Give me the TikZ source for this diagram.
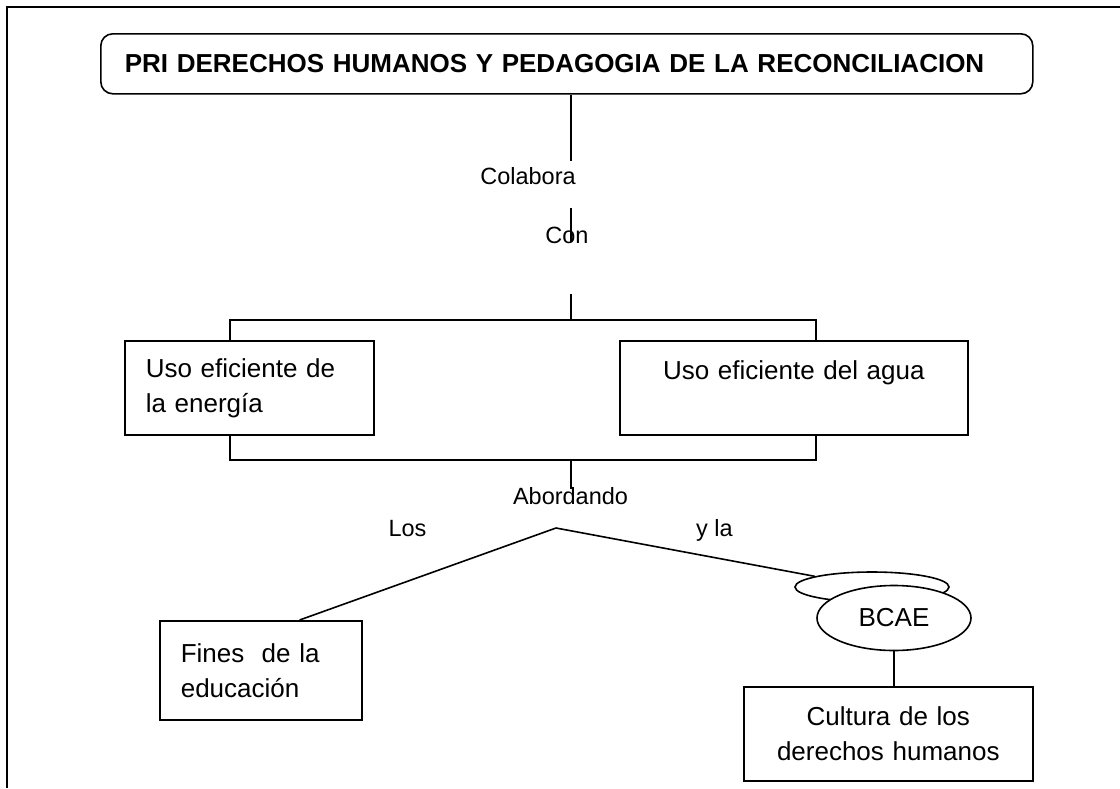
\documentclass[tikz,border=0pt]{standalone}
\usepackage{fontspec}
\setmainfont{Liberation Sans}
\usepackage{tikz}
\usetikzlibrary{shapes.geometric}

\begin{document}
\begin{tikzpicture}[x=1pt, y=1pt, line width=1.6pt,
    box/.style={draw, rectangle, inner ysep=0pt, anchor=north west,
      font=\fontsize{26}{35}\selectfont},
    oval/.style={draw, ellipse, fill=white, inner sep=0pt, minimum width=154pt,
      font=\fontsize{26}{30}\selectfont},
    lbl/.style={inner sep=0pt, anchor=base, font=\fontsize{23.5}{28}\selectfont}]
    \useasboundingbox (0, 0) rectangle (1120, -788);
    % frame
    \draw (7, -788) -- (7, -7) -- (1120, -7);
    % title
    \node[box, rounded corners=12pt, text width=884pt, inner xsep=24pt, align=left,
      minimum height=60pt, font=\bfseries\fontsize{26}{30}\selectfont] (title) at (100, -33)
      {PRI DERECHOS HUMANOS Y PEDAGOGIA DE LA RECONCILIACION};
    % labels
    \node[lbl] (colabora) at (528, -184) {Colabora};
    \node[lbl] (con) at (567, -243) {Con};
    \node[lbl] (abordando) at (570.5, -504) {Abordando};
    \node[lbl] (los) at (407.5, -536) {Los};
    \node[lbl] (yla) at (714.5, -536) {y la};
    % boxes
    \node[box, text width=207pt, inner xsep=21pt, align=left, minimum height=94pt] (energia) at (124, -340)
      {Uso eficiente de\\la energía};
    \node[box, text width=308pt, inner xsep=20pt, align=center, minimum height=94pt] (agua) at (619, -340)
      {Uso eficiente del agua\\\mbox{}};
    \node[box, text width=160pt, inner xsep=21pt, align=left, minimum height=99pt] (fines) at (159, -620)
      {Fines\ \ de la\\educación};
    \node[box, text width=269pt, inner xsep=10pt, align=center, minimum height=94pt] (cultura) at (743, -686)
      {Cultura de los\\derechos humanos};
    \node[oval, minimum height=30pt] (back) at (872, -587) {};
    \node[oval, minimum height=65pt] (bcae) at (894, -618) {BCAE};
    % connectors
    \coordinate (spine) at (571, 0);
    \coordinate (k1) at (571, -161);
    \coordinate (k2) at (571, -208);
    \coordinate (k3) at (571, -242);
    \coordinate (k4) at (571, -294);
    \coordinate (topL) at (230, -320);
    \coordinate (topM) at (571, -320);
    \coordinate (topR) at (816, -320);
    \coordinate (botL) at (230, -460);
    \coordinate (botM) at (571, -460);
    \coordinate (botR) at (816, -460);
    \coordinate (k5) at (571, -489);
    \coordinate (apex) at (556, -528);
    \draw (title.south -| spine) -- (k1);
    \draw (k2) -- (k3);
    \draw (k4) -- (topM);
    \draw (energia.north -| topL) -- (topL) -- (topR) -- (agua.north -| topR);
    \draw (energia.south -| botL) -- (botL) -- (botR) -- (agua.south -| botR);
    \draw (botM) -- (k5);
    \draw ([xshift=-63pt]fines.north east) -- (apex) -- (back);
    \draw (bcae.south) -- (bcae.south |- cultura.north);
\end{tikzpicture}
\end{document}
